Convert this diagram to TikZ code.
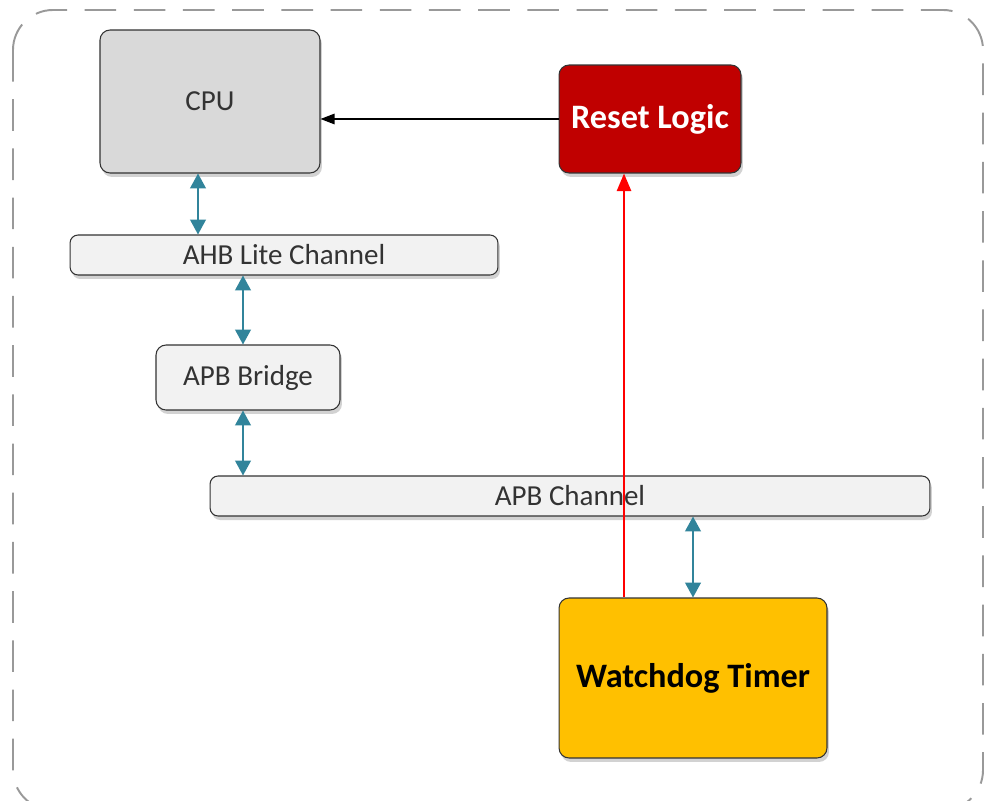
\documentclass[tikz,border=0pt]{standalone}
\usepackage{fontspec}
\setmainfont{Carlito}
\usetikzlibrary{positioning,arrows.meta,shadows}
\definecolor{cpugray}{HTML}{D9D9D9}
\definecolor{busgray}{HTML}{F2F2F2}
\definecolor{resetred}{HTML}{C00000}
\definecolor{wdtyellow}{HTML}{FFC000}
\definecolor{busteal}{HTML}{31849B}
\definecolor{irqred}{HTML}{FF0000}
\definecolor{textgray}{HTML}{333333}
\tikzset {
block/.style={shape=rectangle,draw=black!80,rounded corners=0.2cm,line width=0.6pt,
  text=textgray,font=\fontsize{16.5}{19}\selectfont,
  drop shadow={shadow xshift=0.4mm,shadow yshift=-0.8mm,fill=black!35}},
bus/.style={block,fill=busgray,minimum height=0.8cm,rounded corners=0.16cm},
busarrow/.style={{Triangle[length=8.5pt,width=9pt]}-{Triangle[length=8.5pt,width=9pt]},color=busteal,line width=1pt},
irqarrow/.style={-{Triangle[length=10pt,width=8pt]},draw=irqred,fill=irqred,line width=1.4pt},
frame/.style={draw=black!40,line width=1.1pt,dash pattern=on 18pt off 10pt,rounded corners=0.8cm}
}

\begin{document}
\begin{tikzpicture}
[x=0.02cm,y=-0.02cm]
\useasboundingbox (0,0) rectangle (989,800);
\draw[frame] (13,10) rectangle (983,810);

\node[block,fill=cpugray,minimum width=4.4cm,minimum height=2.86cm] (cpu) at (210,101.5) {CPU};
\node[block,fill=resetred,text=white,font=\fontsize{19.5}{22}\selectfont\bfseries,minimum width=3.64cm,minimum height=2.16cm] (reset) at (650,119) {Reset Logic};
\node[bus,minimum width=8.56cm] (ahb) at (284,255) {AHB Lite Channel};
\node[block,fill=busgray,minimum width=3.68cm,minimum height=1.3cm] (bridge) at (248,377.5) {APB Bridge};
\node[bus,minimum width=14.4cm] (apb) at (570,496) {APB Channel};
\node[block,fill=wdtyellow,text=black,font=\fontsize{19.5}{22}\selectfont\bfseries,minimum width=5.36cm,minimum height=3.2cm] (wdt) at (693,678) {Watchdog Timer};

\coordinate (cpu port) at (198,0);
\coordinate (bridge port) at (243,0);
\coordinate (irq port) at (624,0);

\draw[-{Triangle[length=8pt,width=6pt]},line width=0.7pt] (reset.west) -- (reset.west -| cpu.east);
\draw[irqarrow] (wdt.north -| irq port) -- (reset.south -| irq port);
\draw[busarrow] (cpu.south -| cpu port) -- (ahb.north -| cpu port);
\draw[busarrow] (ahb.south -| bridge port) -- (bridge.north -| bridge port);
\draw[busarrow] (bridge.south -| bridge port) -- (apb.north -| bridge port);
\draw[busarrow] (apb.south -| wdt.north) -- (wdt.north);
\end{tikzpicture}
\end{document}
